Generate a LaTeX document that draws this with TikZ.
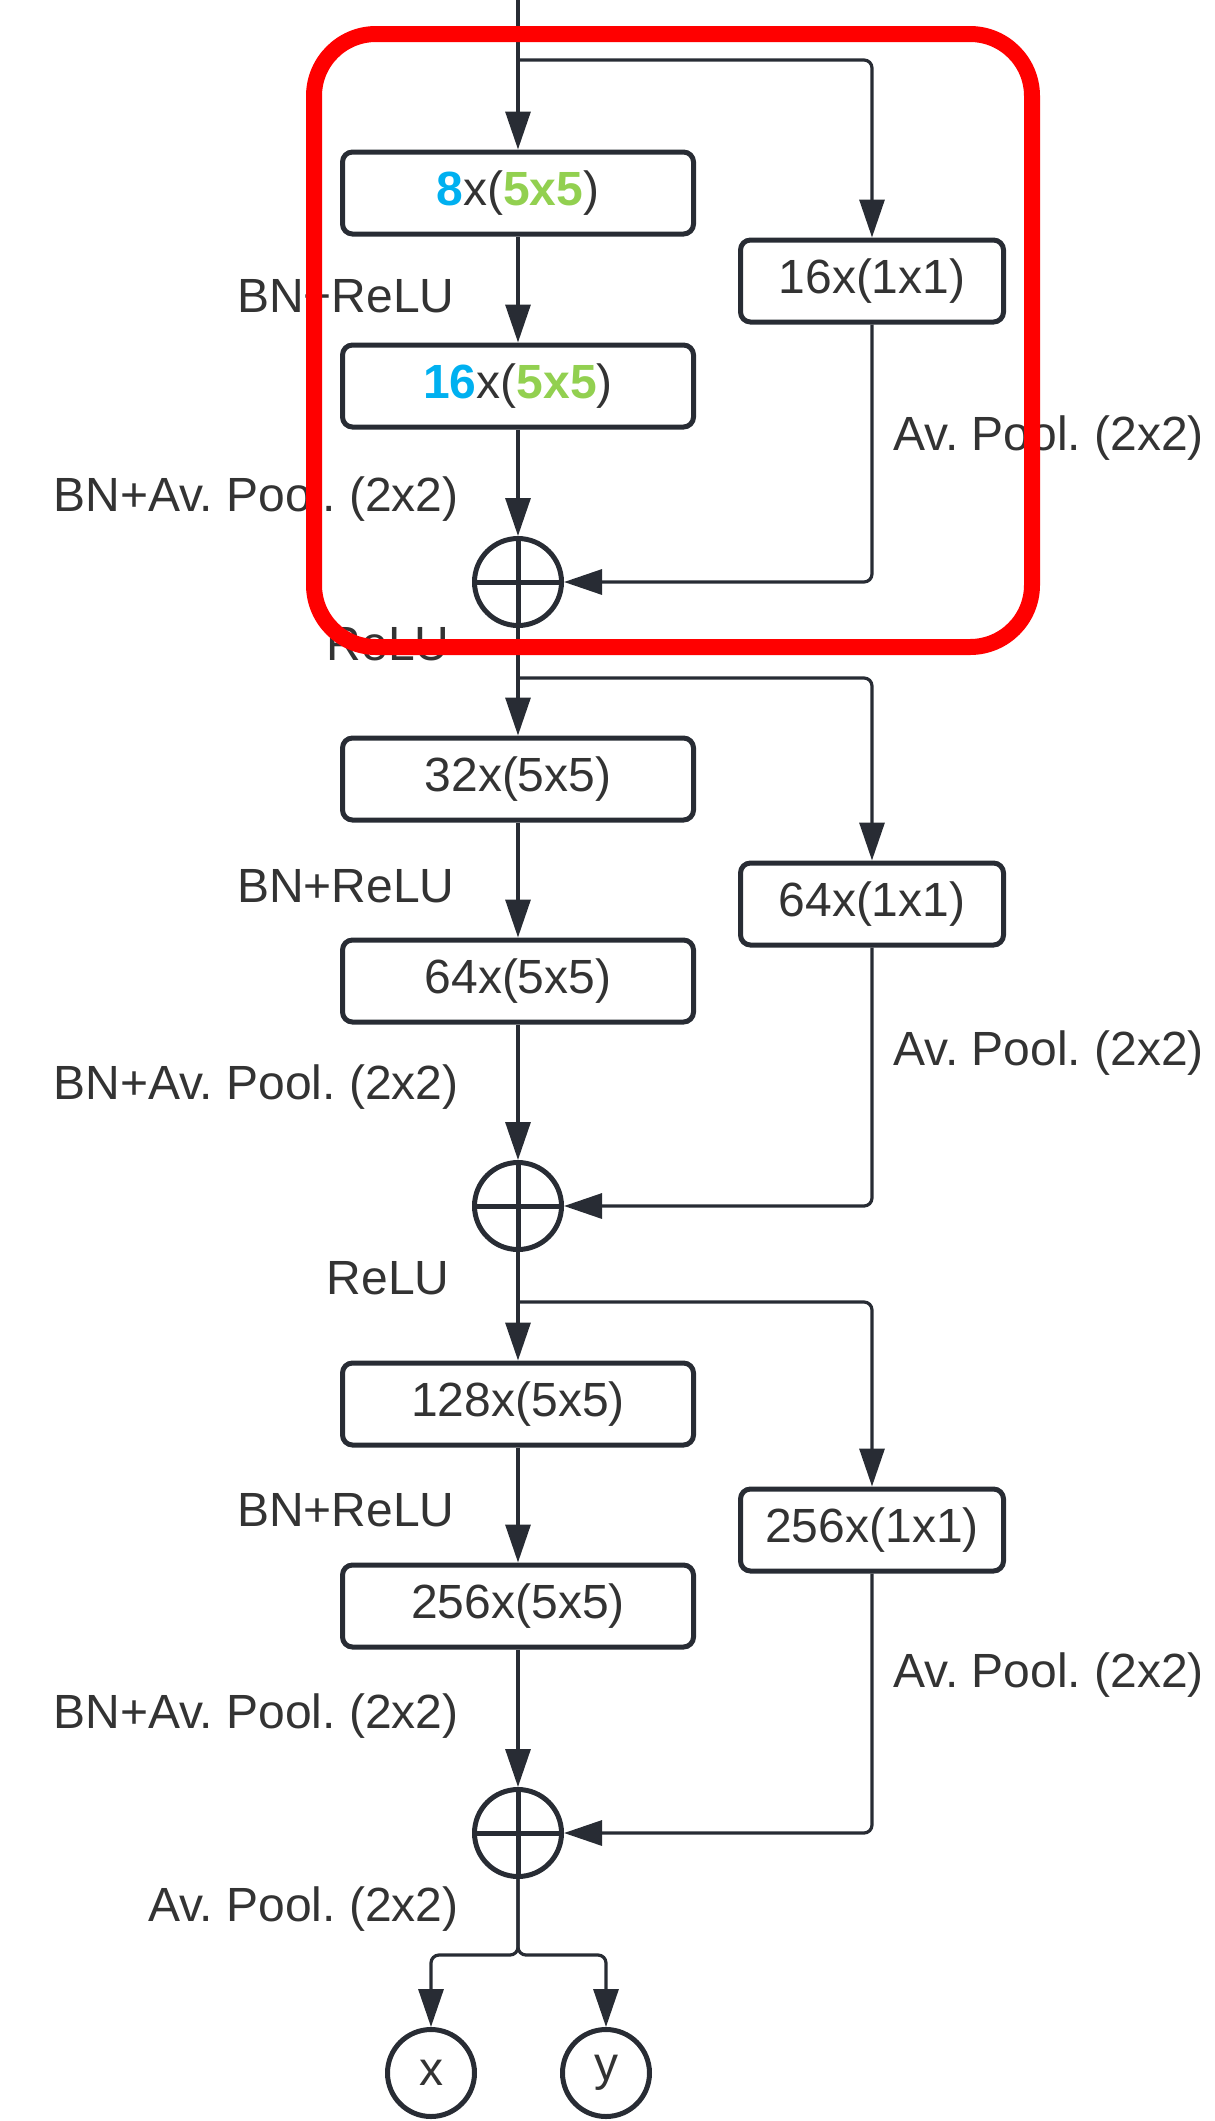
\documentclass[tikz,border=0pt]{standalone}
\usepackage{fontspec}
\setmainfont{Liberation Sans}
\usetikzlibrary{arrows.meta,positioning}
\definecolor{linec}{RGB}{40,44,52}
\definecolor{txtc}{RGB}{51,51,51}
\definecolor{chblue}{RGB}{0,176,240}
\definecolor{kgreen}{RGB}{146,208,80}
\newcommand{\bigfont}{\fontsize{24}{28}\selectfont}
\frenchspacing

\begin{document}
\begin{tikzpicture}[x=0.5pt, y=-0.5pt,
  conv/.style={draw=linec, line width=2.5pt, rounded corners=5pt,
    minimum width=175.5pt, minimum height=41pt, inner sep=0pt,
    font=\bigfont, text=txtc},
  short/.style={conv, minimum width=131.5pt},
  sum/.style={circle, draw=linec, line width=2.5pt, minimum size=43.5pt,
    inner sep=0pt, path picture={
      \draw[linec, line width=2.5pt]
        (path picture bounding box.north) -- (path picture bounding box.south)
        (path picture bounding box.west) -- (path picture bounding box.east);}},
  outc/.style={circle, draw=linec, line width=2.5pt, minimum size=43.5pt,
    inner sep=0pt, font=\bigfont, text=txtc},
  arr/.style={draw=linec, line width=1.6pt, rounded corners=4pt,
    -{Triangle[length=19pt,width=12.5pt]}},
  lbl/.style={inner sep=0pt, font=\bigfont, text=txtc,
    text height=17.3pt, text depth=0pt},
  hilite/.style={draw=red, line width=8pt, rounded corners=31pt}]
\useasboundingbox (0,0) rectangle (1215,2121);

% block 1
\coordinate (in) at (518,-4);
\coordinate (j0) at (518,60);
\node[conv] (a0) at (518,193)
  {\textcolor{chblue}{\bfseries 8}x(\textcolor{kgreen}{\bfseries 5x5})};
\node[short] (s0) at (872,281) {16x(1x1)};
\node[conv] (b0) at (518,386)
  {\textcolor{chblue}{\bfseries 16}x(\textcolor{kgreen}{\bfseries 5x5})};
\node[sum] (p0) at (518,582) {};
\draw[arr] (in) -- (a0);
\draw[arr] (j0) -| (s0);
\draw[arr] (a0) -- (b0);
\draw[arr] (b0) -- (p0);
\draw[arr] (s0) |- (p0);
\node[lbl, anchor=east] (l0a) at (455,295) {BN+ReLU};
\node[lbl, anchor=east] (l0b) at (459,494) {BN+Av. Pool. (2x2)};
\node[lbl, anchor=west] (l0c) at (893,433) {Av. Pool. (2x2)};
\node[lbl, anchor=east] (l0d) at (450,643) {ReLU};

% block 2
\coordinate (j1) at (518,678);
\node[conv] (a1) at (518,779) {32x(5x5)};
\node[short] (s1) at (872,904) {64x(1x1)};
\node[conv] (b1) at (518,981) {64x(5x5)};
\node[sum] (p1) at (518,1206) {};
\draw[arr] (p0) -- (a1);
\draw[arr] (j1) -| (s1);
\draw[arr] (a1) -- (b1);
\draw[arr] (b1) -- (p1);
\draw[arr] (s1) |- (p1);
\node[lbl, anchor=east] (l1a) at (455,885) {BN+ReLU};
\node[lbl, anchor=east] (l1b) at (459,1082) {BN+Av. Pool. (2x2)};
\node[lbl, anchor=west] (l1c) at (893,1048) {Av. Pool. (2x2)};
\node[lbl, anchor=east] (l1d) at (450,1277) {ReLU};

% block 3
\coordinate (j2) at (518,1302);
\node[conv] (a2) at (518,1404) {128x(5x5)};
\node[short] (s2) at (872,1530) {256x(1x1)};
\node[conv] (b2) at (518,1606) {256x(5x5)};
\node[sum] (p2) at (518,1833) {};
\draw[arr] (p1) -- (a2);
\draw[arr] (j2) -| (s2);
\draw[arr] (a2) -- (b2);
\draw[arr] (b2) -- (p2);
\draw[arr] (s2) |- (p2);
\node[lbl, anchor=east] (l2a) at (455,1509) {BN+ReLU};
\node[lbl, anchor=east] (l2b) at (459,1711) {BN+Av. Pool. (2x2)};
\node[lbl, anchor=west] (l2c) at (893,1670) {Av. Pool. (2x2)};
\node[lbl, anchor=east] (l2d) at (459,1904) {Av. Pool. (2x2)};

% outputs
\coordinate (sp) at (518,1955);
\node[outc] (ox) at (431,2073) {x};
\node[outc] (oy) at (606,2073) {y};
\draw[arr] (p2) -- (sp) -| (ox);
\draw[arr] (p2) -- (sp) -| (oy);

% highlight
\draw[hilite] (314,34) rectangle (1032,647);
\end{tikzpicture}
\end{document}
